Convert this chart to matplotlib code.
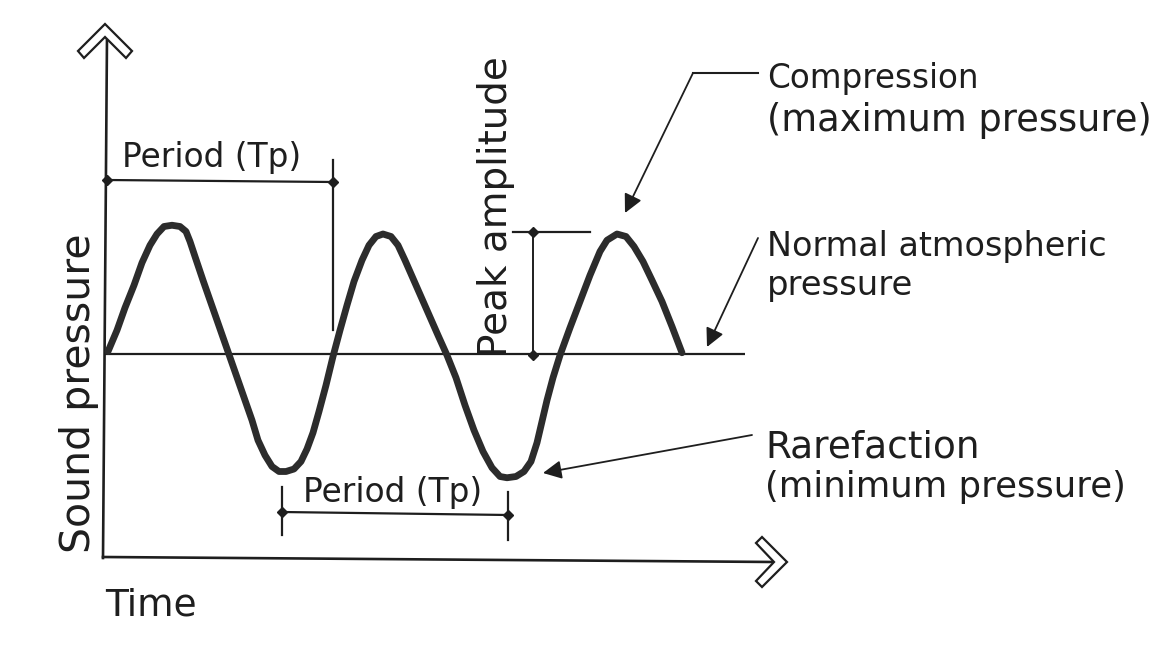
import matplotlib
matplotlib.use("Agg")
import matplotlib.pyplot as plt
from matplotlib.patches import Polygon

# ---------------- data ----------------
# time in ms (arbitrary), pressure relative to normal atmospheric (arbitrary units)
time_ms = [0.01, 0.10, 0.18, 0.27, 0.35, 0.43, 0.50, 0.57, 0.65, 0.73, 0.79, 0.83,
           0.88, 0.96, 1.03, 1.17, 1.31, 1.45, 1.51, 1.58, 1.65, 1.72, 1.79, 1.87,
           1.94, 2.00, 2.06, 2.12, 2.19, 2.26, 2.33, 2.40, 2.47, 2.55, 2.62, 2.69,
           2.76, 2.84, 2.91, 2.98, 3.09, 3.20, 3.31, 3.40, 3.49, 3.58, 3.67, 3.76,
           3.85, 3.93, 4.00, 4.09, 4.17, 4.24, 4.30, 4.35, 4.40, 4.46, 4.53, 4.63,
           4.73, 4.83, 4.93, 5.00, 5.10, 5.19, 5.27, 5.36, 5.45, 5.55, 5.65, 5.75]
pressure = [0.02, 0.19, 0.37, 0.55, 0.73, 0.87, 0.96, 1.02, 1.03, 1.02, 0.98, 0.90,
            0.78, 0.59, 0.43, 0.11, -0.21, -0.53, -0.69, -0.81, -0.90, -0.94, -0.94, -0.92,
            -0.86, -0.76, -0.63, -0.46, -0.25, -0.02, 0.19, 0.39, 0.58, 0.75, 0.87, 0.94,
            0.96, 0.94, 0.87, 0.75, 0.55, 0.35, 0.15, -0.01, -0.19, -0.41, -0.61, -0.78,
            -0.91, -0.98, -0.99, -0.98, -0.94, -0.86, -0.71, -0.54, -0.37, -0.19, -0.01, 0.21,
            0.42, 0.63, 0.82, 0.91, 0.96, 0.94, 0.86, 0.74, 0.59, 0.42, 0.22, 0.01]
baseline_time = [-0.02, 6.38]
baseline_pressure = [0.0, 0.0]

labels = {
    "period": "Period (Tp)",
    "compression": ["Compression", "(maximum pressure)"],
    "normal": ["Normal atmospheric", "pressure"],
    "rarefaction": ["Rarefaction", "(minimum pressure)"],
    "peak": "Peak amplitude",
    "ylabel": "Sound pressure",
    "xlabel": "Time",
}

# ---------------- figure ----------------
W, H, DPI = 1175, 668, 100
fig = plt.figure(figsize=(W / DPI, H / DPI), dpi=DPI, facecolor="white")
plt.rcParams["font.family"] = ["DejaVu Sans"]

INK = "#1e1e1e"

# overlay axes in pixel units for decorations
ov = fig.add_axes([0, 0, 1, 1])
ov.set_xlim(0, W)
ov.set_ylim(H, 0)
ov.axis("off")

# data axes
ax = fig.add_axes([0, 0, 1, 1])
ax.set_xlim(-1.07, 10.68)
ax.set_ylim(-2.512, 2.832)
ax.axis("off")
ax.patch.set_alpha(0)

# wave and normal pressure line
ax.plot(baseline_time, baseline_pressure, color=INK, lw=1.6, solid_capstyle="butt")
ax.plot(time_ms, pressure, color="#2c2c2c", lw=4.9,
        solid_capstyle="round", solid_joinstyle="round")

# axes lines
ov.plot([103, 107], [558, 37], color=INK, lw=1.9)
ov.plot([103, 775], [557, 562], color=INK, lw=1.9)

# chevron arrow heads (hollow)
ov.add_patch(Polygon([(105, 24), (132, 51), (126, 58), (105, 37), (84, 58), (78, 51)],
                     closed=True, facecolor="white", edgecolor=INK, lw=1.6, zorder=5))
ov.add_patch(Polygon([(787, 562), (762, 537), (756, 543), (774, 562), (756, 581), (762, 587)],
                     closed=True, facecolor="white", edgecolor=INK, lw=1.6, zorder=5))

# top period bracket
ov.plot([107, 333], [180, 182], color=INK, lw=1.6)
ov.plot([333, 333], [160, 330], color=INK, lw=1.6)
ov.plot([107, 333], [180, 182], ls="none", marker="D", ms=5.5, color=INK)

# bottom period bracket
ov.plot([282, 508], [512, 515], color=INK, lw=1.6)
ov.plot([282, 282], [487, 535], color=INK, lw=1.6)
ov.plot([508, 508], [492, 540], color=INK, lw=1.6)
ov.plot([282, 508], [512, 515], ls="none", marker="D", ms=5.5, color=INK)

# peak amplitude bracket
ov.plot([533, 533], [232, 358], color=INK, lw=1.4)
ov.plot([513, 590], [232, 232], color=INK, lw=1.6)
ov.plot([533, 533], [232, 355], ls="none", marker="D", ms=5.5, color=INK)

# leader arrows
arrow_kw = dict(arrowstyle="-|>,head_length=0.7,head_width=0.35", color=INK,
                lw=1.3, shrinkA=0, shrinkB=0, mutation_scale=16)
ov.plot([758, 693], [73, 73], color=INK, lw=1.5)
ov.annotate("", xy=(625, 213), xytext=(693, 73), arrowprops=arrow_kw)
ov.annotate("", xy=(707, 347), xytext=(758, 238), arrowprops=arrow_kw)
ov.annotate("", xy=(543, 473), xytext=(752, 435), arrowprops=arrow_kw)

# texts
tk = dict(color=INK, va="baseline", ha="left")
ov.text(122, 167, labels["period"], fontsize=23.6, **tk)
ov.text(303, 502, labels["period"], fontsize=23.6, **tk)
ov.text(767, 88, labels["compression"][0], fontsize=23.5, **tk)
ov.text(767, 131, labels["compression"][1], fontsize=26.5, **tk)
ov.text(767, 256, labels["normal"][0], fontsize=24, **tk)
ov.text(767, 295, labels["normal"][1], fontsize=24.4, **tk)
ov.text(765, 458, labels["rarefaction"][0], fontsize=27, **tk)
ov.text(765, 497, labels["rarefaction"][1], fontsize=25.6, **tk)
ov.text(105, 615, labels["xlabel"], fontsize=27, **tk)
ov.text(90, 553, labels["ylabel"], fontsize=29.5, rotation=90,
        rotation_mode="anchor", **tk)
ov.text(507, 357, labels["peak"], fontsize=28, rotation=90,
        rotation_mode="anchor", **tk)

fig.savefig("out.png", dpi=DPI, facecolor="white")
